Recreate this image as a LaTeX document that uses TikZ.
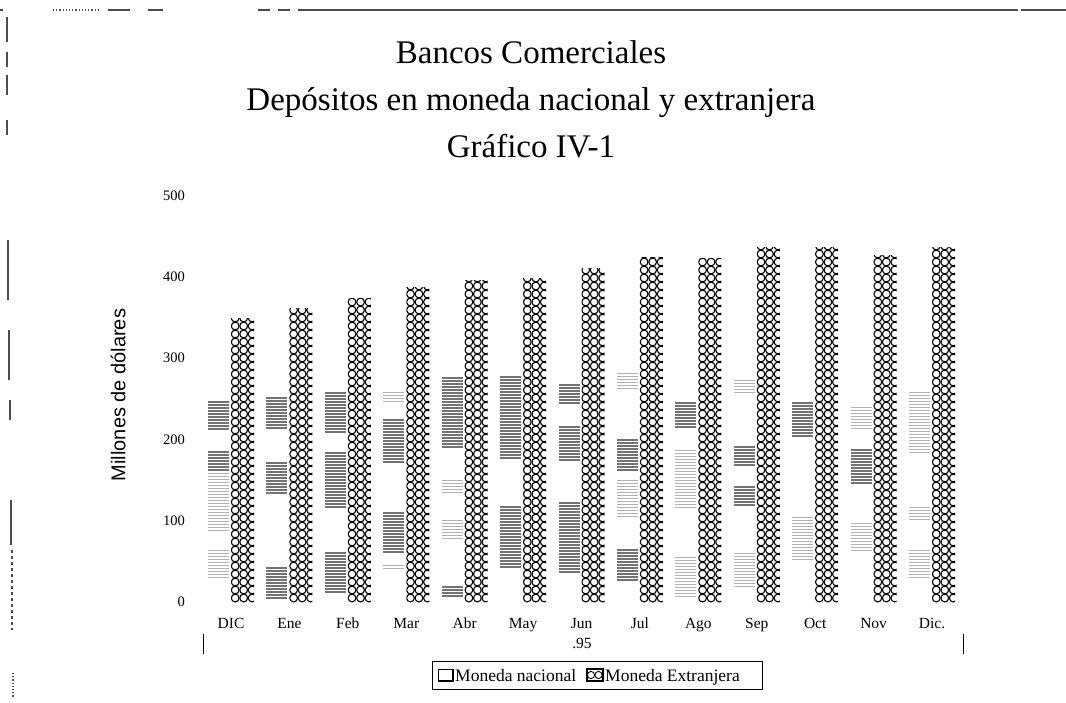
\documentclass[tikz,border=0pt]{standalone}
\usepackage{fontspec}
\setmainfont{Liberation Serif}
\newfontfamily\arialf{Liberation Sans}
\begin{document}
\begin{tikzpicture}[x=1pt,y=-1pt,
  circ/.style={line width=1.1pt, black},
  nacd/.style={line width=1.1pt, black!55},
  nacl/.style={line width=0.9pt, black!30},
  border/.style={line width=1.2pt, black!70},
  ylab/.style={font=\fontsize{14.5}{16}\selectfont, anchor=east, inner sep=0pt},
  xlab/.style={font=\fontsize{15.5}{17}\selectfont, anchor=base, inner sep=0pt},
  ttl/.style={font=\fontsize{33}{38}\selectfont, anchor=base, inner sep=0pt},
  legtxt/.style={font=\fontsize{17.5}{20}\selectfont, anchor=base west, inner sep=0pt}]
\useasboundingbox (0,0) rectangle (1066,702);

% scan border artefacts
\draw[border] (0,10) -- (3,10);
\draw[border, dotted] (53,10) -- (100,10);
\draw[border] (108,10) -- (130,10);
\draw[border] (148,10) -- (163,10);
\draw[border] (258,10) -- (270,10);
\draw[border] (278,10) -- (290,10);
\draw[border] (298,10) -- (1018,10);
\draw[border] (1021,10) -- (1066,10);
\draw[border] (7,17) -- (7,42);
\draw[border] (7,52) -- (7,67);
\draw[border] (7,75) -- (7,95);
\draw[border] (7,120) -- (7,135);
\draw[border] (8,240) -- (8,300);
\draw[border] (9,330) -- (9,380);
\draw[border] (10,400) -- (10,420);
\draw[border] (11,500) -- (11,545);
\draw[border, dashed] (12,550) -- (12,630);
\draw[border, dotted] (13,673) -- (13,697);

% title
\node[ttl] (t1) at (531,63) {Bancos Comerciales};
\node[ttl] (t2) at (531,110) {Depósitos en moneda nacional y extranjera};
\node[ttl] (t3) at (531,157) {Gráfico IV-1};

% y axis labels
\foreach \v/\yy in {0/602,100/521,200/440,300/358,400/277,500/196}
  \node[ylab] (y\v) at (185,\yy) {\v};
\node[font=\arialf\fontsize{20}{22}\selectfont, rotate=90, inner sep=0pt] (ytitle) at (118,395) {Millones de dólares};

% Moneda Extranjera bars
\foreach \i/\t in {0/318,1/308,2/298,3/287,4/280,5/278,6/268,7/257,8/258,9/247,10/247,11/255,12/247} {
  \pgfmathsetmacro\L{231+58.42*\i}
  \begin{scope}
    \clip (\L,\t) rectangle (\L+23,603);
    \foreach \r in {0,...,45} {
      \foreach \c in {0,1,2} {
        \draw[circ] (\L+4.2+8.5*\c, 598-8*\r) circle[radius=3.9pt];
      }
    }
  \end{scope}
}

% Moneda nacional bars (faded horizontal-line pattern)
\foreach \i/\a/\b/\s in {
  0/402/430/d, 0/452/470/d, 0/473/530/l, 0/550/578/l,
  1/398/430/d, 1/463/493/d, 1/568/598/d,
  2/393/433/d, 2/453/507/d, 2/553/593/d,
  3/392/403/l, 3/420/462/d, 3/513/553/d, 3/565/570/l,
  4/378/447/d, 4/480/493/l, 4/520/540/l, 4/587/597/d,
  5/377/460/d, 5/507/567/d,
  6/385/403/d, 6/427/460/d, 6/503/573/d,
  7/373/390/l, 7/440/470/d, 7/480/517/l, 7/550/580/d,
  8/403/427/d, 8/450/507/l, 8/557/597/l,
  9/380/393/l, 9/447/467/d, 9/487/505/d, 9/553/587/l,
  10/403/437/d, 10/517/560/l,
  11/407/430/l, 11/450/483/d, 11/523/550/l,
  12/392/453/l, 12/507/520/l, 12/550/577/l} {
  \pgfmathsetmacro\X{231+58.42*\i-23}
  \pgfmathtruncatemacro\aa{\a+3}
  \foreach \yy in {\a,\aa,...,\b}
    \draw[nac\s] (\X,\yy) -- ++(21,0);
}

% x labels
\foreach \i/\m in {0/DIC,1/Ene,2/Feb,3/Mar,4/Abr,5/May,6/Jun,7/Jul,8/Ago,9/Sep,10/Oct,11/Nov,12/Dic.}
  \node[xlab] (m\i) at ({231+58.42*\i},628) {\m};
\node[xlab] (yr) at (582,648) {.95};

% bottom markers
\coordinate (bl1) at (203,634); \coordinate (bl2) at (203,654);
\coordinate (br1) at (963,634); \coordinate (br2) at (963,654);
\draw[line width=1pt] (bl1) -- (bl2);
\draw[line width=1pt] (br1) -- (br2);

% legend
\node[draw, line width=1pt, minimum width=330pt, minimum height=28pt, inner sep=0pt] (leg) at (597,675) {};
\draw[line width=1pt] (438,669) rectangle (453,681);
\draw[line width=1.6pt] (453,669) -- (453,681) -- (438,681);
\node[legtxt] (l1) at (455,681) {Moneda nacional};
\begin{scope}
  \clip (587,669) rectangle (603,681);
  \foreach \c in {0,1} \draw[line width=0.9pt] (591+7.5*\c,675) circle[radius=3.6pt];
\end{scope}
\draw[line width=1.2pt] (587,669) rectangle (603,681);
\node[legtxt] (l2) at (605,681) {Moneda Extranjera};
\end{tikzpicture}
\end{document}
